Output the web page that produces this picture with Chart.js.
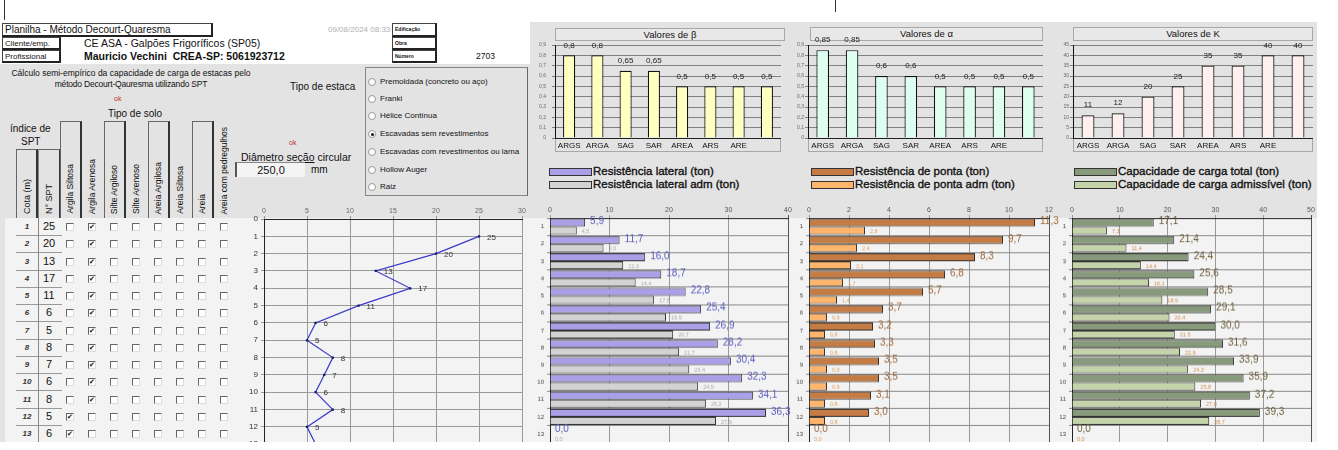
<!doctype html>
<html lang="pt-BR">
<head>
<meta charset="utf-8">
<title>Planilha - Método Decourt-Quaresma</title>
<script src="https://cdn.jsdelivr.net/npm/chart.js@4.4.1/dist/chart.umd.min.js"></script>
<style>
  body { margin:0; width:1338px; height:450px; overflow:hidden; background:#fff;
         font-family:"Liberation Sans", Arial, sans-serif; color:#111; }
  #folha { position:absolute; left:0; top:0; width:1317px; height:442px; overflow:hidden; background:#e3e3e3; }
  .a { position:absolute; white-space:nowrap; }
  .cx { position:absolute; box-sizing:border-box; border:1px solid #444; border-right:2px solid #222; border-bottom:2px solid #222;
        font-size:8px; line-height:11px; padding-left:2px; white-space:nowrap; }
  .mini { font-size:5px; font-weight:bold; line-height:11px; }
  .vt { position:absolute; writing-mode:vertical-rl; transform:rotate(180deg); font-size:8.5px; line-height:10px; white-space:nowrap; }
  .hbox { position:absolute; box-sizing:border-box; border:1px solid #666; border-right:2px solid #333; border-bottom:none; }
  .cb { position:absolute; width:8px; height:8px; box-sizing:border-box; background:#fff;
        border-top:1px solid #666; border-left:1px solid #666; border-right:1px solid #ddd; border-bottom:1px solid #ddd;
        font:bold 7px "DejaVu Sans"; line-height:7px; text-align:center; color:#111; }
  .rd { position:absolute; width:8px; height:8px; box-sizing:border-box; border-radius:50%; background:#fff; border:1px solid #999; }
  .rd.on::after { content:""; position:absolute; left:1.5px; top:1.5px; width:3px; height:3px; border-radius:50%; background:#111; }
  .rtx { position:absolute; font-size:8px; white-space:nowrap; line-height:10px; }
  .tbox { position:absolute; box-sizing:border-box; border:1px solid #a8a8a8; background:#e8e8e8; font-size:9.5px; text-align:center; line-height:12px; }
  .xbox { position:absolute; box-sizing:border-box; border:1px solid #a8a8a8; }
  .leg { position:absolute; font-size:11.5px; line-height:13px; white-space:nowrap; -webkit-text-stroke:0.35px #111; }
  .sw { display:inline-block; width:43px; height:8px; box-sizing:border-box; border:1px solid #333; vertical-align:-1px; margin-right:1px; }
  .ch { position:absolute; }
</style>
</head>
<body>
<div id="folha">
  <div class="a" style="left:0;top:0;width:1317px;height:22px;background:#fff"></div>
  <div class="a" style="left:4px;top:0;width:1px;height:20px;background:#333"></div>
  <div class="a" style="left:835px;top:0;width:1px;height:12px;background:#333"></div>
  <div class="a" style="left:0;top:22px;width:530px;height:42px;background:#fff"></div>
  <div class="a" style="left:5px;top:218px;width:1312px;height:224px;background:#f3f3f3"></div>

  <!-- cabeçalho -->
  <div class="cx" style="left:2px;top:23px;width:211px;height:14px;font-size:10px;line-height:11px">Planilha - Método Decourt-Quaresma</div>
  <div class="a" style="left:328px;top:25px;font-size:8px;color:#b0b0b0">09/08/2024 08:33</div>
  <div class="cx mini" style="left:392px;top:23px;width:45px;height:14px">Edificação</div>
  <div class="cx" style="left:2px;top:37px;width:59px;height:13px">Cliente/emp.</div>
  <div class="a" style="left:84px;top:37px;font-size:10.5px">CE ASA - Galpões Frigoríficos (SP05)</div>
  <div class="cx mini" style="left:392px;top:37px;width:45px;height:13px">Obra</div>
  <div class="cx" style="left:2px;top:50px;width:59px;height:13px">Profissional</div>
  <div class="a" style="left:84px;top:50px;font-size:10.5px;font-weight:bold">Mauricio Vechini&nbsp;&nbsp;CREA-SP: 5061923712</div>
  <div class="cx mini" style="left:392px;top:50px;width:45px;height:13px">Número</div>
  <div class="a" style="left:476px;top:51px;font-size:8.5px">2703</div>

  <div class="a" style="left:11px;top:68px;width:240px;text-align:center;font-size:8.5px">Cálculo semi-empírico da capacidade de carga de estacas pelo</div>
  <div class="a" style="left:11px;top:79px;width:240px;text-align:center;font-size:8.5px;letter-spacing:-0.2px">método Decourt-Qauresma utilizando SPT</div>
  <div class="a" style="left:290px;top:81px;font-size:10px">Tipo de estaca</div>
  <div class="a" style="left:114px;top:95px;font-size:7px;color:#c03030">ok</div>
  <div class="a" style="left:108px;top:108px;font-size:10px">Tipo de solo</div>
  <div class="a" style="left:10px;top:123px;font-size:10px">índice de</div>
  <div class="a" style="left:21px;top:136px;font-size:10px">SPT</div>

  <div class="a" style="left:365px;top:67px;width:163px;height:129px;box-sizing:border-box;border:1px solid #888;border-right:1px solid #666"></div>
  <div id="radios"></div>

  <div class="a" style="left:289px;top:139px;font-size:7px;color:#c03030">ok</div>
  <div class="a" style="left:241px;top:151px;font-size:10.5px"><span style="text-decoration:underline">Diâmetro seção</span> circular</div>
  <div class="a" style="left:235px;top:162px;width:70px;height:15px;box-sizing:border-box;background:#f4f4f4;border-left:2px solid #555;border-top:1px solid #888;font-size:11px;line-height:14px;text-align:center">250,0</div>
  <div class="a" style="left:311px;top:164px;font-size:10px">mm</div>

  <div id="tabela"></div>

  <!-- gráficos de coeficientes -->
  <div class="tbox" style="left:555px;top:28px;width:230px;height:13px">Valores de β</div>
  <div class="xbox" style="left:555px;top:138px;width:226px;height:14px"></div>
  <div class="ch" style="left:530px;top:25px;width:251px;height:127px"><canvas id="gBeta"></canvas></div>

  <div class="tbox" style="left:810px;top:27px;width:233px;height:14px">Valores de α</div>
  <div class="xbox" style="left:808px;top:138px;width:235px;height:14px"></div>
  <div class="ch" style="left:795px;top:25px;width:248px;height:127px"><canvas id="gAlfa"></canvas></div>

  <div class="tbox" style="left:1073px;top:27px;width:240px;height:14px">Valores de K</div>
  <div class="xbox" style="left:1073px;top:138px;width:240px;height:14px"></div>
  <div class="ch" style="left:1060px;top:25px;width:253px;height:127px"><canvas id="gK"></canvas></div>

  <!-- legendas -->
  <div class="leg" style="left:549px;top:165px"><span class="sw" style="background:#a9a0e8"></span>Resistência lateral (ton)</div>
  <div class="leg" style="left:549px;top:178px"><span class="sw" style="background:#d3d3d3"></span>Resistência lateral adm (ton)</div>
  <div class="leg" style="left:811px;top:165px"><span class="sw" style="background:#c47c44"></span>Resistência de ponta (ton)</div>
  <div class="leg" style="left:811px;top:178px"><span class="sw" style="background:#ffb66c"></span>Resistência de ponta adm (ton)</div>
  <div class="leg" style="left:1074px;top:165px"><span class="sw" style="background:#879a7b"></span>Capacidade de carga total (ton)</div>
  <div class="leg" style="left:1074px;top:178px"><span class="sw" style="background:#c5d3ab"></span>Capacidade de carga admissível (ton)</div>

  <!-- gráficos por cota -->
  <div class="ch" style="left:235px;top:200px;width:295px;height:252px"><canvas id="gSpt"></canvas></div>
  <div class="ch" style="left:530px;top:200px;width:265px;height:248.5px"><canvas id="gLateral"></canvas></div>
  <div class="ch" style="left:795px;top:200px;width:265px;height:248.5px"><canvas id="gPonta"></canvas></div>
  <div class="ch" style="left:1060px;top:200px;width:257px;height:248.5px"><canvas id="gCarga"></canvas></div>
</div>

<script>
var cotas = [1, 2, 3, 4, 5, 6, 7, 8, 9, 10, 11, 12, 13];
var nSpt = [25, 20, 13, 17, 11, 6, 5, 8, 7, 6, 8, 5, 6];
var soloPorCota = [1, 1, 1, 1, 1, 1, 1, 1, 1, 1, 1, 0, 0];
var tiposSolo = ['Argila Siltosa', 'Argila Arenosa', 'Silte Argiloso', 'Silte Arenoso',
                 'Areia Argilosa', 'Areia Siltosa', 'Areia', 'Areia com pedregulhos'];
var tiposEstaca = ['Premoldada (concreto ou aço)', 'Franki', 'Hélice Contínua', 'Escavadas sem revestimentos',
                   'Escavadas com revestimentos ou lama', 'Hollow Auger', 'Raiz'];
var estacaEscolhida = 3;

var siglasSolo = ['ARGS', 'ARGA', 'SAG', 'SAR', 'AREA', 'ARS', 'ARE', ''];
var valoresBeta = [0.8, 0.8, 0.65, 0.65, 0.5, 0.5, 0.5, 0.5];
var valoresAlfa = [0.85, 0.85, 0.6, 0.6, 0.5, 0.5, 0.5, 0.5];
var valoresK = [11, 12, 20, 25, 35, 35, 40, 40];

var resLateral = [5.9, 11.7, 16.0, 18.7, 22.8, 25.4, 26.9, 28.2, 30.4, 32.3, 34.1, 36.3, 0.0];
var resLateralAdm = [4.5, 9.0, 12.3, 14.4, 17.5, 19.5, 20.7, 21.7, 23.4, 24.9, 26.2, 27.9, 0.0];
var resPonta = [11.3, 9.7, 8.3, 6.8, 5.7, 3.7, 3.2, 3.3, 3.5, 3.5, 3.1, 3.0, 0.0];
var resPontaAdm = [2.8, 2.4, 2.1, 1.7, 1.4, 0.9, 0.8, 0.8, 0.9, 0.9, 0.8, 0.8, 0.0];
var capTotal = [17.1, 21.4, 24.4, 25.6, 28.5, 29.1, 30.0, 31.6, 33.9, 35.9, 37.2, 39.3, 0.0];
var capAdm = [7.3, 11.4, 14.4, 16.1, 18.9, 20.4, 21.5, 22.6, 24.3, 25.8, 27.0, 28.7, 0.0];

// ---- tabela de solos (html) ----
var html = '';
var y0 = 227, dy = 17.25;
html += '<div class="hbox" style="left:16px;top:149px;width:22px;height:69px"></div>';
html += '<div class="hbox" style="left:38px;top:149px;width:23px;height:69px"></div>';
html += '<div class="vt" style="left:22px;bottom:228px;font-size:9px">Cota (m)</div>';
html += '<div class="vt" style="left:44px;bottom:228px;font-size:9px">N° SPT</div>';
tiposSolo.forEach(function (t, k) {
  var cx = 70 + k * 22;
  if (k % 2 == 0) html += '<div class="hbox" style="left:' + (cx - 10) + 'px;top:121px;width:22px;height:97px"></div>';
  html += '<div class="vt" style="left:' + (cx - 5) + 'px;bottom:228px">' + t + '</div>';
});
cotas.forEach(function (c, i) {
  var y = y0 + i * dy;
  html += '<div class="a" style="left:16px;top:' + (y - 5) + 'px;width:22px;text-align:center;font:italic bold 8px \'Liberation Sans\';color:#333">' + c + '</div>';
  html += '<div class="a" style="left:38px;top:' + (y - 7) + 'px;width:22px;text-align:center;font-size:11px">' + nSpt[i] + '</div>';
  html += '<div class="a" style="left:16px;top:' + (y + 8) + 'px;width:46px;height:1px;background:#999"></div>';
  tiposSolo.forEach(function (t, k) {
    var cx = 70 + k * 22;
    html += '<div class="cb" style="left:' + (cx - 4) + 'px;top:' + (y - 4) + 'px">' + (soloPorCota[i] == k ? '✔' : '') + '</div>';
  });
});
html += '<div class="a" style="left:38px;top:149px;width:1px;height:293px;background:#888"></div>';
document.getElementById('tabela').innerHTML = html;

var rh = '';
var ry = [82, 99, 116, 134, 152, 170, 187];
tiposEstaca.forEach(function (t, i) {
  rh += '<div class="rd' + (i == estacaEscolhida ? ' on' : '') + '" style="left:368px;top:' + (ry[i] - 4) + 'px"></div>';
  rh += '<div class="rtx" style="left:380px;top:' + (ry[i] - 5) + 'px">' + t + '</div>';
});
document.getElementById('radios').innerHTML = rh;

// ---- graficos ----
Chart.defaults.font.family = '"Liberation Sans", Arial, sans-serif';
Chart.defaults.animation = false;

function virgula(v, casas) {
  return (casas == null ? String(v) : v.toFixed(casas)).replace('.', ',');
}

// rótulos de dados desenhados a partir dos elementos do gráfico
function rotulos(estilos) {
  return {
    id: 'rotulos',
    afterDatasetsDraw: function (chart) {
      var ctx = chart.ctx;
      estilos.forEach(function (e, i) {
        var meta = chart.getDatasetMeta(i);
        var dados = chart.data.datasets[i].data;
        ctx.save();
        ctx.font = e.fonte;
        ctx.fillStyle = e.cor;
        ctx.textAlign = e.alinha;
        ctx.textBaseline = 'middle';
        meta.data.forEach(function (el, j) {
          var v = dados[j];
          if (typeof v === 'object') v = v.x;
          ctx.fillText(virgula(v, e.casas), el.x + e.dx, el.y + e.dy);
        });
        ctx.restore();
      });
    }
  };
}

function graficoCoef(id, valores, cor, maxY, passo, largY, padY) {
  new Chart(document.getElementById(id), {
    type: 'bar',
    data: {
      labels: siglasSolo,
      datasets: [{ data: valores, backgroundColor: cor, borderColor: '#111', borderWidth: 1.2,
                   barPercentage: 0.43, categoryPercentage: 1 }]
    },
    options: {
      responsive: true, maintainAspectRatio: false,
      layout: { padding: { top: 20, left: 0, right: 0, bottom: 0 } },
      plugins: { legend: { display: false }, tooltip: { enabled: false } },
      scales: {
        x: { grid: { display: false, drawTicks: false }, border: { color: '#222' },
             ticks: { font: { size: 8 }, color: '#111', padding: 3, autoSkip: false, maxRotation: 0 },
             afterFit: function (s) { s.height = 14; } },
        y: { min: 0, max: maxY,
             ticks: { stepSize: passo, font: { size: 5 }, color: '#666', padding: padY,
                      callback: function (v) { return virgula(Math.round(v * 100) / 100); } },
             grid: { color: '#808080', tickLength: 3 }, border: { color: '#111' },
             afterFit: function (s) { s.width = largY; } }
      }
    },
    plugins: [rotulos([{ fonte: '8px "Liberation Sans"', cor: '#222', alinha: 'center', dx: 0, dy: -10 }])]
  });
}

graficoCoef('gBeta', valoresBeta, '#ffffc0', 0.9, 0.1, 25, 6);
graficoCoef('gAlfa', valoresAlfa, '#dcfff0', 0.9, 0.1, 13, 1);
graficoCoef('gK', valoresK, '#fff0f0', 45, 5, 13, 1);

new Chart(document.getElementById('gSpt'), {
  type: 'scatter',
  data: {
    datasets: [{
      data: nSpt.map(function (v, i) { return { x: v, y: cotas[i] }; }),
      showLine: true, borderColor: '#3a3acb', borderWidth: 1.2,
      pointStyle: 'rect', pointRadius: 1.6, pointBackgroundColor: '#1a1a60', pointBorderWidth: 0
    }]
  },
  options: {
    responsive: true, maintainAspectRatio: false,
    layout: { padding: { right: 8, left: 0, top: 0, bottom: 0 } },
    plugins: { legend: { display: false }, tooltip: { enabled: false } },
    scales: {
      x: { type: 'linear', position: 'top', min: 0, max: 30,
           ticks: { stepSize: 5, font: { size: 7 }, color: '#666', padding: 1 },
           grid: { color: '#9a9a9a', tickLength: 3 }, border: { color: '#222' },
           afterFit: function (s) { s.height = 19; } },
      y: { type: 'linear', reverse: true, min: 0, max: 13,
           ticks: { stepSize: 1, font: { size: 8 }, color: '#333', padding: 3 },
           grid: { color: '#9a9a9a', tickLength: 3 }, border: { color: '#222' },
           afterFit: function (s) { s.width = 29; } }
    }
  },
  plugins: [rotulos([{ fonte: '8px "Liberation Sans"', cor: '#333', alinha: 'left', dx: 8, dy: 1 }])]
});

function graficoProf(id, serie, serieAdm, cores, corRot, corRotAdm, maxX, passo, largY, padDir) {
  new Chart(document.getElementById(id), {
    type: 'bar',
    data: {
      labels: cotas,
      datasets: [
        { data: serie, backgroundColor: cores[0], borderColor: '#333', borderWidth: 1, barPercentage: 1, categoryPercentage: 0.93 },
        { data: serieAdm, backgroundColor: cores[1], borderColor: '#333', borderWidth: 1, barPercentage: 1, categoryPercentage: 0.93 }
      ]
    },
    options: {
      indexAxis: 'y', responsive: true, maintainAspectRatio: false,
      layout: { padding: { right: padDir, left: 0, top: 0, bottom: 0 } },
      plugins: { legend: { display: false }, tooltip: { enabled: false } },
      scales: {
        x: { position: 'top', min: 0, max: maxX,
             ticks: { stepSize: passo, font: { size: 7 }, color: '#555', padding: 1 },
             grid: { color: function (c) { return c.tick && c.tick.value == maxX ? '#555' : '#9a9a9a'; }, tickLength: 3 },
             border: { color: '#222' },
             afterFit: function (s) { s.height = 18; } },
        y: { ticks: { font: { size: 6 }, color: '#444', padding: 3 },
             grid: { color: '#8a8a8a', tickLength: 3 }, border: { color: '#222' },
             afterFit: function (s) { s.width = largY; } }
      }
    },
    plugins: [rotulos([
      { fonte: '10px "Liberation Sans"', cor: corRot, alinha: 'left', dx: 5, dy: -1, casas: 1 },
      { fonte: '5.5px "Liberation Sans"', cor: corRotAdm, alinha: 'left', dx: 5, dy: 1, casas: 1 }
    ])]
  });
}

graficoProf('gLateral', resLateral, resLateralAdm, ['#a9a0e8', '#d3d3d3'], '#5b5bc0', '#a8a8a8', 40, 10, 20, 7);
graficoProf('gPonta', resPonta, resPontaAdm, ['#c47c44', '#ffb66c'], '#a0683a', '#e0a060', 12, 2, 14, 11);
graficoProf('gCarga', capTotal, capAdm, ['#879a7b', '#c5d3ab'], '#6b5f3c', '#d09050', 50, 10, 12, 6);
</script>
</body>
</html>
